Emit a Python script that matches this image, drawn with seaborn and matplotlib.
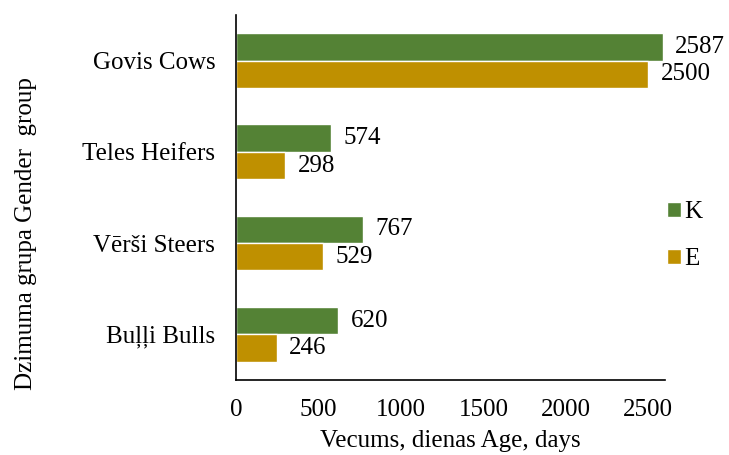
import pandas as pd
import matplotlib.pyplot as plt
import seaborn as sns

# Data
groups = ['Govis Cows', 'Teles Heifers', 'Vērši Steers', 'Buļļi Bulls']
k_values = [2587, 574, 767, 620]
e_values = [2500, 298, 529, 246]
series = ['K', 'E']
colors = ['#548235', '#BF9000']

df = pd.DataFrame({
    'group': groups * 2,
    'value': k_values + e_values,
    'series': ['K'] * len(groups) + ['E'] * len(groups),
})

sns.set_style('white')
plt.rcParams['font.family'] = ['Liberation Serif', 'DejaVu Serif']
plt.rcParams['text.color'] = 'black'
plt.rcParams['axes.labelcolor'] = 'black'
plt.rcParams['xtick.color'] = 'black'
plt.rcParams['ytick.color'] = 'black'
fs = 18

fig = plt.figure(figsize=(7.29, 4.55), dpi=100)
ax = fig.add_axes([0.324, 0.165, 0.588, 0.802])

sns.barplot(data=df, y='group', x='value', hue='series', order=groups,
            hue_order=series, palette=colors, orient='h', width=0.6,
            saturation=1, ax=ax)

for container in ax.containers:
    ax.bar_label(container, padding=9, fontsize=fs)

ax.set_xlim(0, 2600)
ax.set_xticks([0, 500, 1000, 1500, 2000, 2500])
ax.tick_params(axis='x', direction='out', length=5, width=1, labelsize=fs, pad=9)
ax.tick_params(axis='y', length=0, labelsize=fs, pad=15)
ax.set_xlabel('Vecums, dienas Age, days', fontsize=fs, labelpad=6)
ax.set_ylabel('Dzimuma grupa Gender  group', fontsize=fs)
ax.yaxis.set_label_coords(-0.464, 0.40)

for side in ['top', 'right']:
    ax.spines[side].set_visible(False)
for side in ['left', 'bottom']:
    ax.spines[side].set_color('black')
    ax.spines[side].set_linewidth(1.2)

ax.legend(loc='center left', bbox_to_anchor=(1.005, 0.395), frameon=False,
          fontsize=fs, handlelength=0.55, handleheight=0.55, handletextpad=0.15,
          labelspacing=1.0, borderpad=0, borderaxespad=0)

fig.savefig('out.png', dpi=100)
